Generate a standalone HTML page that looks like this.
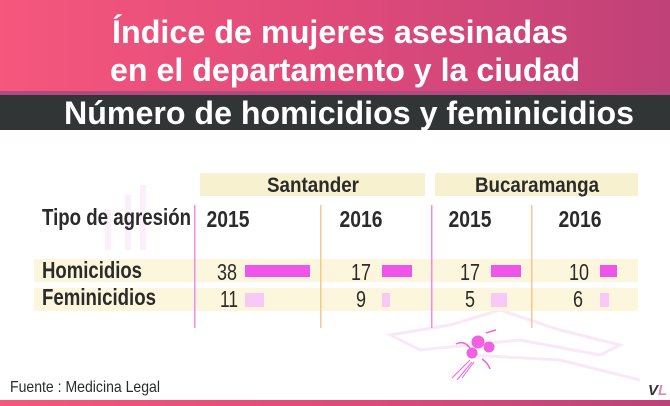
<!DOCTYPE html>
<html><head><meta charset="utf-8"><style>
html,body{margin:0;padding:0;background:#fff}
svg{display:block}
text{font-family:"Liberation Sans",sans-serif}
</style></head><body>
<svg width="670" height="406" viewBox="0 0 670 406" xmlns="http://www.w3.org/2000/svg">
<defs>
<linearGradient id="g" x1="0" x2="1" y1="0" y2="0">
<stop offset="0" stop-color="#f5577d"/><stop offset="0.5" stop-color="#e04a7a"/><stop offset="1" stop-color="#bf4178"/>
</linearGradient>
</defs>
<rect x="0" y="0" width="670" height="93" fill="url(#g)"/>
<rect x="0" y="91" width="670" height="4" fill="#b04a80"/>
<rect x="0" y="95" width="670" height="35" fill="#323536"/>
<text x="340" y="43" text-anchor="middle" font-size="32" font-weight="bold" fill="#fff" textLength="456" lengthAdjust="spacingAndGlyphs">Índice de mujeres asesinadas</text>
<text x="345" y="81" text-anchor="middle" font-size="32" font-weight="bold" fill="#fff" textLength="470" lengthAdjust="spacingAndGlyphs">en el departamento y la ciudad</text>
<text x="64" y="124" font-size="32" font-weight="bold" fill="#fff" textLength="570" lengthAdjust="spacingAndGlyphs">Número de homicidios y feminicidios</text>

<!-- faint decoration -->
<g stroke="#fae8f6" stroke-width="3" fill="none">
<path d="M390 335 L450 325 L500 310 L560 330 L620 345 L600 355 L520 340 L470 345 L420 350 Z"/>
<path d="M470 355 L560 360 L640 380"/>
</g>
<rect x="105" y="210" width="6" height="40" fill="#fbf0f9"/>
<rect x="125" y="195" width="6" height="55" fill="#fbf0f9"/>
<rect x="140" y="185" width="6" height="65" fill="#fbf0f9"/>

<rect x="200" y="173" width="225" height="23" fill="#f8f1cf"/>
<rect x="435" y="173" width="203" height="23" fill="#f8f1cf"/>
<text x="313" y="192" text-anchor="middle" font-size="21" font-weight="bold" fill="#2b2b2b" textLength="92" lengthAdjust="spacingAndGlyphs">Santander</text>
<text x="537" y="192" text-anchor="middle" font-size="21" font-weight="bold" fill="#2b2b2b" textLength="124" lengthAdjust="spacingAndGlyphs">Bucaramanga</text>

<rect x="34" y="259" width="604" height="23" fill="#fcf6dc"/>
<rect x="34" y="288" width="604" height="23" fill="#fcf6dc"/>

<rect x="194" y="205" width="1.5" height="123" fill="#f08ce8"/>
<rect x="320" y="205" width="1.5" height="123" fill="#f6c890"/>
<rect x="431" y="205" width="1.5" height="123" fill="#f08ce8"/>
<rect x="531" y="205" width="1.5" height="123" fill="#f6c890"/>

<g font-size="23" font-weight="bold" fill="#2b2b2b">
<text x="42" y="225" textLength="149" lengthAdjust="spacingAndGlyphs">Tipo de agresión</text>
<text x="228" y="227" text-anchor="middle" textLength="43" lengthAdjust="spacingAndGlyphs">2015</text>
<text x="361" y="227" text-anchor="middle" textLength="43" lengthAdjust="spacingAndGlyphs">2016</text>
<text x="470" y="227" text-anchor="middle" textLength="43" lengthAdjust="spacingAndGlyphs">2015</text>
<text x="580" y="227" text-anchor="middle" textLength="43" lengthAdjust="spacingAndGlyphs">2016</text>
<text x="42" y="278" textLength="100" lengthAdjust="spacingAndGlyphs">Homicidios</text>
<text x="42" y="305" textLength="114" lengthAdjust="spacingAndGlyphs">Feminicidios</text>
</g>
<g font-size="23" fill="#2b2b2b" text-anchor="middle">
<text x="227" y="280" textLength="20" lengthAdjust="spacingAndGlyphs">38</text>
<text x="361" y="280" textLength="20" lengthAdjust="spacingAndGlyphs">17</text>
<text x="470" y="280" textLength="20" lengthAdjust="spacingAndGlyphs">17</text>
<text x="579" y="280" textLength="20" lengthAdjust="spacingAndGlyphs">10</text>
<text x="229" y="307" textLength="18" lengthAdjust="spacingAndGlyphs">11</text>
<text x="361" y="307" textLength="10" lengthAdjust="spacingAndGlyphs">9</text>
<text x="470" y="307" textLength="10" lengthAdjust="spacingAndGlyphs">5</text>
<text x="578" y="307" textLength="10" lengthAdjust="spacingAndGlyphs">6</text>
</g>
<g fill="#f055ea">
<rect x="245" y="265" width="65" height="12"/>
<rect x="382" y="265" width="30" height="12"/>
<rect x="491" y="265" width="30" height="12"/>
<rect x="600" y="265" width="17" height="12"/>
</g>
<g fill="#f9c8f6">
<rect x="245" y="293" width="19" height="14"/>
<rect x="382" y="293" width="8" height="14"/>
<rect x="491" y="293" width="16" height="14"/>
<rect x="600" y="293" width="9" height="14"/>
</g>

<g fill="#f060e0" stroke="#f060e0">
<circle cx="478" cy="342" r="6"/><circle cx="489" cy="347" r="5"/><circle cx="472" cy="353" r="5"/>
<path d="M470 360 L452 378 M472 362 L457 380 M474 362 L462 378" stroke-width="1" fill="none"/>
<path d="M456 344 q8 -4 14 4 M486 333 q6 -2 10 -3 M482 359 q6 4 8 10" stroke-width="1.5" fill="none"/>
</g>

<text x="10" y="392" font-size="16" fill="#2b2b2b" textLength="150" lengthAdjust="spacingAndGlyphs">Fuente : Medicina Legal</text>
<text x="648" y="395" font-size="15" font-weight="bold" font-style="italic" fill="#333">V<tspan fill="#e08ab8">L</tspan></text>
<rect x="0" y="400" width="670" height="6" fill="url(#g)"/>
</svg>
</body></html>
